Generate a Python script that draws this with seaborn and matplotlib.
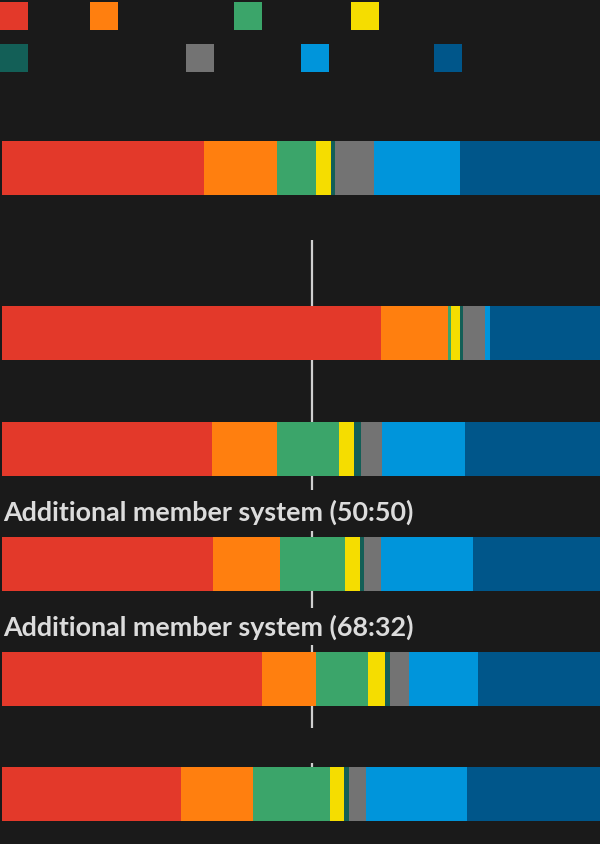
import numpy as np
import pandas as pd
import matplotlib
matplotlib.use("Agg")
import matplotlib.pyplot as plt
from matplotlib.patches import Rectangle
import seaborn as sns

# ---------------- data ----------------
parties = ["Labour", "Lib Dem", "Green", "SNP", "Plaid Cymru", "Other", "Reform UK", "Conservative"]
colors = ["#e3392a", "#ff7f0f", "#3ba56a", "#f5dd00", "#135f57", "#737373", "#0095db", "#00568a"]

systems = ["", "", "", "Additional member system (50:50)", "Additional member system (68:32)", ""]

seats_1 = [219, 79, 42, 16, 5, 42, 93, 154]
seats_2 = [411, 72, 4, 9, 4, 24, 5, 121]
seats_3 = [227, 71, 67, 16, 8, 23, 90, 148]
seats_4 = [228, 73, 71, 16, 4, 19, 100, 139]
seats_5 = [282, 58, 57, 18, 5, 21, 75, 134]
seats_6 = [194, 78, 83, 16, 5, 18, 110, 146]
all_seats = [seats_1, seats_2, seats_3, seats_4, seats_5, seats_6]

majority_line = 336

# ---------------- layout ----------------
BG = "#1a1a1a"
W, H = 600, 844
bar_centers = [167.5, 333, 448.5, 563.7, 678.7, 794]
bar_h = 54
line_segments = [(240, 490), (530.7, 608.3), (645, 727.5), (763, 790)]
legend_pos = [(0, 2), (90, 2), (233.5, 2), (351, 2), (0, 44), (186, 44), (300.5, 44), (434, 44)]
sq = 28

sns.set_theme(style="white")
plt.rcParams["font.family"] = ["Lato", "DejaVu Sans"]

fig = plt.figure(figsize=(W / 100, H / 100), dpi=100, facecolor=BG)
ax = fig.add_axes([0, 0, 1, 1])
ax.set_facecolor(BG)

# majority line segments (behind bars)
for y0, y1 in line_segments:
    ax.plot([majority_line, majority_line], [y0, y1], color="#cfcfcf", lw=1.6,
            solid_capstyle="butt", zorder=0)

# stacked bars: draw cumulative totals from the last party to the first
df = pd.DataFrame(np.array(all_seats), columns=parties)
df["pos"] = bar_centers
cum = df[parties].cumsum(axis=1)
spacing = np.min(np.diff(sorted(bar_centers)))
for k in range(len(parties) - 1, -1, -1):
    d = pd.DataFrame({"value": cum[parties[k]], "pos": df["pos"]})
    sns.barplot(data=d, x="value", y="pos", orient="y", native_scale=True,
                width=bar_h / spacing, color=colors[k], saturation=1, linewidth=0,
                errorbar=None, ax=ax, zorder=2)

# titles
for name, yc in zip(systems, bar_centers):
    if name:
        ax.text(1.0, yc - bar_h / 2 - 15.7, name, color="#dcdcdc", fontsize=19.4,
                fontweight="bold", va="baseline", ha="left", zorder=3)

px_per_seat = 0.922
x0_px = 2.3
xmin = -x0_px / px_per_seat
xmax = xmin + W / px_per_seat
ax.set_xlim(xmin, xmax)
ax.set_ylim(H, 0)

# legend squares (in pixel units mapped to data)
for (lx, ly), c in zip(legend_pos, colors):
    ax.add_patch(Rectangle((xmin + lx / px_per_seat, ly), sq / px_per_seat, sq,
                           facecolor=c, edgecolor="none", zorder=3, clip_on=False))

ax.set_axis_off()
fig.savefig("out.png", dpi=100, facecolor=BG)
